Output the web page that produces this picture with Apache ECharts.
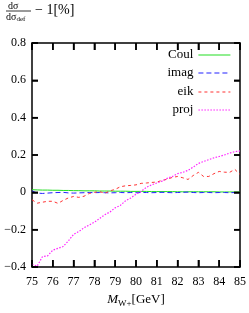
<!DOCTYPE html>
<html>
<head>
<meta charset="utf-8">
<script src="https://cdn.jsdelivr.net/npm/echarts@6/dist/echarts.min.js"></script>
<style>html,body{margin:0;padding:0;background:#fff;}#c{width:249px;height:313px;}</style>
</head>
<body>
<div id="c"></div>
<script>
const mass = [75.0,75.25,75.5,75.75,76.0,76.25,76.5,76.75,77.0,77.25,77.5,77.75,78.0,78.25,78.5,78.75,79.0,79.25,79.5,79.75,80.0,80.25,80.5,80.75,81.0,81.25,81.5,81.75,82.0,82.25,82.5,82.75,83.0,83.25,83.5,83.75,84.0,84.25,84.5,84.75,85.0];
const coul = [0.014,0.013,0.012,0.012,0.011,0.011,0.010,0.010,0.009,0.009,0.008,0.008,0.008,0.007,0.007,0.007,0.006,0.006,0.006,0.005,0.005,0.005,0.005,0.004,0.004,0.004,0.004,0.004,0.003,0.003,0.003,0.003,0.003,0.003,0.003,0.003,0.002,0.002,0.002,0.002,0.002];
const imag = [0.008,-0.004,-0.006,-0.004,-0.002,-0.001,0.000,-0.003,-0.004,-0.003,-0.002,-0.001,-0.002,-0.001,-0.002,-0.003,-0.002,-0.001,-0.002,-0.001,-0.002,-0.001,-0.001,-0.002,-0.001,0.000,-0.001,-0.002,-0.001,0.000,0.001,-0.001,-0.002,-0.001,-0.001,-0.002,-0.001,-0.001,-0.002,-0.001,-0.002];
const eik = [-0.040,-0.058,-0.053,-0.048,-0.048,-0.059,-0.043,-0.030,-0.022,-0.027,-0.021,-0.006,0.000,0.004,-0.005,0.008,0.016,0.030,0.035,0.037,0.040,0.048,0.050,0.053,0.055,0.064,0.070,0.080,0.085,0.078,0.069,0.090,0.107,0.085,0.085,0.100,0.112,0.108,0.107,0.123,0.096];
const proj = [-0.385,-0.395,-0.345,-0.340,-0.310,-0.300,-0.290,-0.260,-0.225,-0.210,-0.190,-0.175,-0.160,-0.140,-0.120,-0.105,-0.083,-0.070,-0.045,-0.030,-0.010,0.005,0.027,0.040,0.050,0.060,0.075,0.085,0.100,0.107,0.118,0.135,0.155,0.165,0.175,0.185,0.192,0.200,0.210,0.218,0.222];
const seriesNames = ['Coul','imag','eik','proj'];
const xTicks = [75,76,77,78,79,80,81,82,83,84,85];
const yTicks = [-0.4,-0.2,0,0.2,0.4,0.6,0.8];

const FONT = 'Liberation Serif';
const pairs = arr => mass.map((m,i)=>[m,arr[i]]);
const yFmt = v => { const r = Math.round(v*10)/10; if (r===0) return '0'; return (r<0?'\u2212':'') + Math.abs(r).toFixed(1); };

const frame = () => ({show:true,onZero:false,lineStyle:{color:'#000',width:1.5}});
const tickOpt = len => ({show:true,inside:true,length:len,lineStyle:{color:'#000',width:1.5}});
const chart = echarts.init(document.getElementById('c'), null, {renderer:'canvas'});
const styles = [
  {color:'#22dd22', type:'solid', width:1},
  {color:'#2222ff', type:[5,3], width:1},
  {color:'#ff3333', type:[3,3], width:1},
  {color:'#ff22ff', type:[1.5,1.5], width:1.2}
];
const data = [coul, imag, eik, proj];
const legendTops = [48.5,66.5,85.5,103.5];

const titleGraphics = [
  {type:'text',left:8,top:1,style:{text:'d\u03c3',font:'10px "Liberation Serif"',fill:'#000'}},
  {type:'line',shape:{x1:6,y1:11,x2:31,y2:11},style:{stroke:'#000',lineWidth:0.8}},
  {type:'text',left:6,top:12,style:{text:'{a|d\u03c3}{b|def}',fill:'#000',
    rich:{a:{fontFamily:FONT,fontSize:10,fill:'#000'},b:{fontFamily:FONT,fontSize:7,fill:'#000',padding:[4,0,0,0]}}}},
  {type:'text',left:35,top:3,style:{text:'\u2212 1[%]',font:'14px "Liberation Serif"',fill:'#000'}}
];

chart.setOption({
  animation:false,
  backgroundColor:'#fff',
  grid:{left:32,right:7,top:43,bottom:45},
  legend: seriesNames.map((n,i)=>({
    data:[n], orient:'vertical', align:'right', right:18, top:legendTops[i],
    padding:0, itemWidth:32, itemHeight:10,
    itemStyle:{opacity:0},
    lineStyle:{color:styles[i].color,width:1.2,type:styles[i].type},
    textStyle:{fontFamily:FONT,fontSize:13,color:'#000'}
  })),
  xAxis:[
    {type:'value',position:'bottom',min:75,max:85,interval:1,
     axisLine:frame(),axisTick:tickOpt(7),
     splitLine:{show:false},
     axisLabel:{fontFamily:FONT,fontSize:12,color:'#000',margin:9,formatter:v=>String(v)},
     name:'{m|M}{s|W+}{n|[GeV]}',nameLocation:'middle',nameGap:24,
     nameTextStyle:{rich:{m:{fontFamily:FONT,fontStyle:'italic',fontSize:13,color:'#000'},
                          s:{fontFamily:FONT,fontSize:9,color:'#000',verticalAlign:'bottom',padding:[8,0,0,0]},
                          n:{fontFamily:FONT,fontSize:13,color:'#000'}}}},
    {type:'value',position:'top',min:75,max:85,interval:1,
     axisLine:frame(),axisTick:tickOpt(7),
     splitLine:{show:false},axisLabel:{show:false}}
  ],
  yAxis:[
    {type:'value',position:'left',min:-0.4,max:0.8,interval:0.2,
     axisLine:frame(),axisTick:tickOpt(6),
     splitLine:{show:false},
     axisLabel:{fontFamily:FONT,fontSize:12,color:'#000',margin:6,formatter:yFmt}},
    {type:'value',position:'right',min:-0.4,max:0.8,interval:0.2,
     axisLine:frame(),axisTick:tickOpt(6),
     splitLine:{show:false},axisLabel:{show:false}}
  ],
  series: seriesNames.map((n,i)=>({
    name:n,type:'line',xAxisIndex:0,yAxisIndex:0,
    data:pairs(data[i]),symbol:'none',showSymbol:false,
    color:styles[i].color,
    lineStyle:{color:styles[i].color,width:styles[i].width,type:styles[i].type},
    z: 2+i
  })),
  graphic: titleGraphics
});

// Inward frame ticks, placed through the chart's own scales
const finder = {xAxisIndex:0, yAxisIndex:0};
const yMin = yTicks[0], yMax = yTicks[yTicks.length-1];
const xMin = xTicks[0], xMax = xTicks[xTicks.length-1];
const tickStyle = {stroke:'#000', lineWidth:1.5};
const tickGraphics = [];
xTicks.forEach(v => {
  const b = chart.convertToPixel(finder, [v, yMin]);
  const t = chart.convertToPixel(finder, [v, yMax]);
  tickGraphics.push({type:'line', z:10, shape:{x1:b[0],y1:b[1],x2:b[0],y2:b[1]-7}, style:tickStyle});
  tickGraphics.push({type:'line', z:10, shape:{x1:t[0],y1:t[1],x2:t[0],y2:t[1]+7}, style:tickStyle});
});
yTicks.forEach(v => {
  const l = chart.convertToPixel(finder, [xMin, v]);
  const r = chart.convertToPixel(finder, [xMax, v]);
  tickGraphics.push({type:'line', z:10, shape:{x1:l[0],y1:l[1],x2:l[0]+6,y2:l[1]}, style:tickStyle});
  tickGraphics.push({type:'line', z:10, shape:{x1:r[0],y1:r[1],x2:r[0]-6,y2:r[1]}, style:tickStyle});
});
chart.setOption({graphic: titleGraphics.concat(tickGraphics)});
</script>
</body>
</html>
